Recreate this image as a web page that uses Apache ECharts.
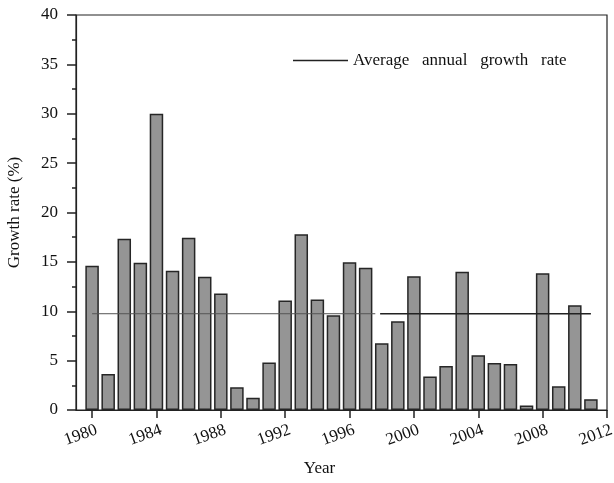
<!DOCTYPE html>
<html>
<head>
<meta charset="utf-8">
<script src="https://cdn.jsdelivr.net/npm/echarts@6/dist/echarts.min.js"></script>
<style>html,body{margin:0;padding:0;background:#fff}#c{width:614px;height:483px}</style>
</head>
<body>
<div id="c"></div>
<script>
const years = [1980,1981,1982,1983,1984,1985,1986,1987,1988,1989,1990,1991,1992,1993,1994,1995,1996,1997,1998,1999,2000,2001,2002,2003,2004,2005,2006,2007,2008,2009,2010,2011];
const growthRate = [14.6,3.65,17.35,14.9,30.0,14.1,17.45,13.5,11.8,2.3,1.25,4.8,11.1,17.8,11.2,9.6,14.95,14.4,6.75,9.0,13.55,3.4,4.45,14.0,5.55,4.75,4.65,0.45,13.85,2.4,10.6,1.1];
const avgRate = 9.75;
const avgSegA = [1980, 1997.6];
const avgSegB = [1997.9, 2011];
const xTicks = [1980,1984,1988,1992,1996,2000,2004,2008,2012];
const legendName = 'Average   annual   growth   rate';

const serif = '"Liberation Serif", "DejaVu Serif", serif';
const chart = echarts.init(document.getElementById('c'), null, {renderer:'canvas'});
chart.setOption({
  animation: false,
  backgroundColor: '#fff',
  grid: {left: 76, right: 7, top: 15, bottom: 73, containLabel: false, outerBoundsMode: 'none',
         show: true, borderColor: '#222', borderWidth: 1.2},
  legend: {
    left: 288, top: 47,
    data: [{name: legendName, icon: 'rect', itemStyle: {color: '#222'}}],
    itemWidth: 55, itemHeight: 1.3, itemGap: 8,
    textStyle: {fontFamily: serif, fontSize: 17, color: '#111'}
  },
  xAxis: {
    type: 'value', min: 1979, max: 2012,
    splitLine: {show: false},
    axisLine: {lineStyle: {color: '#222', width: 1.2}},
    axisTick: {show: true, inside: false, length: 8, customValues: xTicks, lineStyle: {color: '#222', width: 1.5}},
    axisLabel: {customValues: xTicks, rotate: 20, margin: 21, padding: [0, -5, 0, 0],
                fontFamily: serif, fontSize: 17, color: '#111', formatter: v => String(v)},
    name: 'Year', nameLocation: 'middle', nameGap: 50,
    nameTextStyle: {fontFamily: serif, fontSize: 17, color: '#111', padding: [0, 44, 0, 0]}
  },
  yAxis: {
    type: 'value', min: 0, max: 40, interval: 5,
    splitLine: {show: false},
    axisLine: {show: true, lineStyle: {color: '#222', width: 1.2}},
    axisTick: {show: true, inside: false, length: 9, lineStyle: {color: '#222', width: 1.5}},
    minorTick: {show: true, splitNumber: 2, length: 4, lineStyle: {color: '#222', width: 1.5}},
    axisLabel: {margin: 18, fontFamily: serif, fontSize: 17, color: '#111'},
    name: 'Growth rate (%)', nameLocation: 'middle', nameGap: 53,
    nameTextStyle: {fontFamily: serif, fontSize: 17, color: '#111'}
  },
  series: [
    {
      type: 'bar', name: 'Growth rate',
      data: years.map((y, i) => [y, growthRate[i]]),
      barWidth: 13.5,
      itemStyle: {color: '#959595', borderColor: '#262626', borderWidth: 1.5}
    },
    {
      type: 'line', name: legendName, symbol: 'none', z: 5,
      data: [[avgSegA[0], avgRate], [avgSegA[1], avgRate]],
      lineStyle: {color: '#555', width: 1}
    },
    {
      type: 'line', name: legendName, symbol: 'none', z: 5,
      data: [[avgSegB[0], avgRate], [avgSegB[1], avgRate]],
      lineStyle: {color: '#222', width: 1.6}
    }
  ]
});
</script>
</body>
</html>
